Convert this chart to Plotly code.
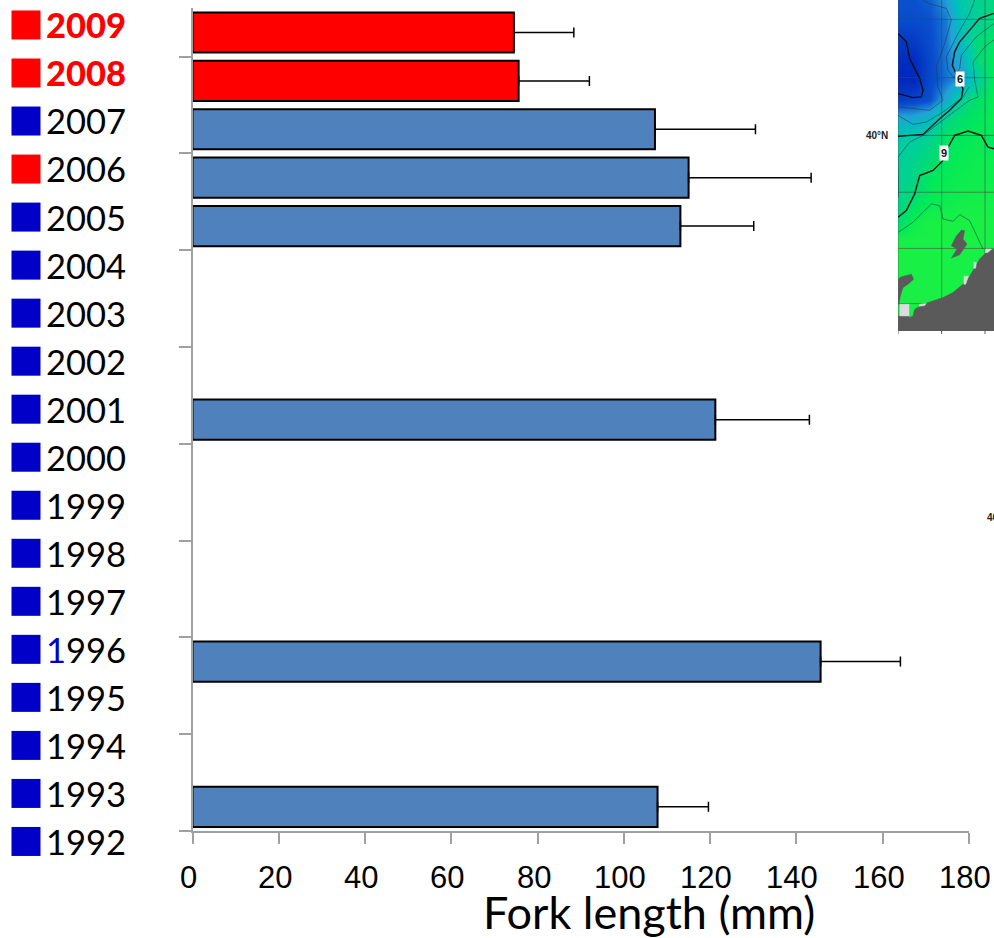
import plotly.graph_objects as go

W, H = 994, 938

# --- chart data ---
label_years = list(range(2009, 1991, -1))
marker_groups = ["red", "red", "blue", "red"] + ["blue"] * 14
bar_years = [2009, 2008, 2007, 2006, 2005, 2001, 1996, 1993]
fork_length = [74.5, 75.6, 107.2, 115.0, 113.1, 121.2, 145.6, 107.8]
error_plus = [13.9, 16.4, 23.3, 28.4, 17.0, 21.8, 18.5, 11.8]
bar_groups = ["red", "red", "steel", "steel", "steel", "steel", "steel", "steel"]
x_ticks = [0, 20, 40, 60, 80, 100, 120, 140, 160, 180]
y_ticks = [1992.5, 1994.5, 1996.5, 1998.5, 2000.5, 2002.5, 2004.5, 2006.5, 2008.5]
x_title = "Fork length (mm)"

# --- inset map data (in inset image units) ---
map_x = [55, 103, 151, 199, 247, 295, 343]
map_y = [0, 60, 120, 180, 240, 300, 360, 420, 480, 540, 600, 660, 720, 1000]
map_temp = [
    [5.0, 5.0, 5.2, 6.0, 7.8, 8.5, 8.8],
    [4.9, 4.9, 5.0, 5.5, 7.4, 8.2, 9.0],
    [4.4, 4.5, 4.9, 5.5, 7.2, 9.0, 9.5],
    [4.1, 4.1, 4.8, 5.5, 6.4, 9.0, 10.0],
    [4.0, 4.0, 4.8, 5.4, 6.0, 8.0, 10.0],
    [4.5, 4.7, 5.0, 6.3, 8.3, 9.5, 10.3],
    [6.4, 6.4, 6.9, 8.7, 9.5, 10.0, 10.5],
    [7.8, 8.0, 8.5, 9.7, 10.0, 10.3, 9.8],
    [8.1, 8.5, 9.1, 10.0, 10.3, 10.5, 10.5],
    [8.3, 8.7, 10.0, 10.3, 10.5, 10.6, 10.6],
    [8.6, 9.4, 10.2, 10.5, 10.7, 10.8, 10.8],
    [9.0, 10.5, 11.0, 11.0, 11.0, 11.0, 11.0],
    [11.0, 11.0, 11.0, 11.0, 11.0, 11.0, 11.0],
    [11.0, 11.0, 11.0, 11.0, 11.0, 11.0, 11.0],
]
grid_x = [55, 186, 316]
grid_y = [58, 232, 405, 575, 743, 908]
bold_contours = [
    ([55, 80, 90, 120, 130, 125, 100, 55], [100, 125, 175, 235, 270, 290, 292, 280]),
    ([343, 300, 270, 240, 225, 218, 235, 250, 245, 210, 180, 130, 55],
     [40, 55, 90, 125, 155, 195, 235, 265, 295, 330, 355, 402, 408]),
    ([343, 325, 305, 265, 225, 200, 190, 160, 120, 105, 80, 55],
     [445, 440, 405, 392, 405, 450, 480, 510, 525, 580, 630, 650]),
]
thin_contours = [
    ([130, 150, 200, 215, 195, 170, 175, 190, 150, 55], [0, 12, 25, 60, 130, 200, 260, 300, 330, 320]),
    ([55, 100, 140, 190, 250, 268], [345, 372, 365, 335, 290, 260]),
    ([285, 270, 235, 200, 205, 225], [0, 40, 100, 170, 210, 235]),
    ([343, 320, 280, 285, 295, 270, 215, 130, 90, 55, 57], [120, 135, 185, 240, 290, 300, 340, 405, 425, 470, 590]),
    ([55, 100, 155, 180, 190, 220, 240, 270, 310], [695, 665, 610, 615, 655, 662, 642, 660, 745]),
    ([343, 290, 245, 240, 220], [70, 110, 165, 205, 235]),
]
land_x = [343, 320, 300, 285, 262, 220, 190, 130, 105, 100, 88, 88, 55, 55, 343]
land_y = [745, 755, 775, 800, 840, 875, 890, 910, 925, 945, 950, 945, 945, 990, 990]
peninsula_x = [55, 65, 95, 102, 85, 70, 62, 58, 55]
peninsula_y = [835, 828, 820, 835, 850, 860, 885, 910, 910]
lake_x = [245, 255, 250, 262, 240, 215, 232, 215, 230]
lake_y = [688, 690, 715, 730, 762, 772, 745, 735, 705]
pale_x = [60, 88, 88, 60]
pale_y = [910, 910, 945, 945]
pale_coast = [
    ([318, 335, 325, 316], [745, 745, 755, 755]),
    ([282, 290, 288, 282], [785, 785, 802, 802]),
    ([252, 266, 258, 252], [826, 826, 850, 850]),
    ([118, 140, 135, 118], [910, 908, 914, 916]),
]

RED = "#ff0000"
BLUE = "#0000c8"
STEEL = "#4f81bd"
AXIS = "#a0a0a0"
DARK = "#5a5a5a"
LABEL_FONT = "Lato"
TICK_FONT = "Liberation Sans"

bar_colours = {"red": RED, "steel": STEEL}
mark_colours = {"red": RED, "blue": BLUE}
bold_years = [2009, 2008]
plain_years = [y for y in label_years if y not in bold_years]

def px(v):
    return v / W

def py(v):
    return 1 - v / H

fig = go.Figure()

# bars
fig.add_trace(go.Bar(
    x=fork_length, y=bar_years, orientation="h", width=0.83,
    marker=dict(color=[bar_colours[g] for g in bar_groups], line=dict(color="black", width=2)),
    error_x=dict(type="data", symmetric=False, array=error_plus,
                 arrayminus=[0] * len(error_plus),
                 color="black", thickness=1.5, width=5),
    showlegend=False, xaxis="x", yaxis="y",
))

# left-hand year key
def year_text(y):
    if y == 1996:
        return f'<span style="color:{BLUE}">1</span>996'
    return str(y)

fig.add_trace(go.Scatter(
    x=[26] * len(label_years), y=label_years, mode="markers",
    marker=dict(symbol="square", size=29,
                color=[mark_colours[g] for g in marker_groups]),
    showlegend=False, xaxis="x3", yaxis="y3",
))
fig.add_trace(go.Scatter(
    x=[46] * len(plain_years), y=[v - 0.1 for v in plain_years], mode="text",
    text=[year_text(y) for y in plain_years],
    textposition="middle right",
    textfont=dict(family=LABEL_FONT, size=34.5, color="black"),
    showlegend=False, xaxis="x3", yaxis="y3", cliponaxis=False,
))
fig.add_trace(go.Scatter(
    x=[46] * len(bold_years), y=[v - 0.1 for v in bold_years], mode="text",
    text=[str(y) for y in bold_years],
    textposition="middle right",
    textfont=dict(family=LABEL_FONT, size=34.5, color=RED, weight=900),
    showlegend=False, xaxis="x3", yaxis="y3", cliponaxis=False,
))

# inset map
fig.add_trace(go.Heatmap(
    x=map_x, y=map_y, z=map_temp, zmin=4, zmax=11, zsmooth="best", showscale=False,
    hoverinfo="skip", xaxis="x4", yaxis="y4",
    colorscale=[[0, "rgb(0,40,190)"], [1 / 7, "rgb(10,80,205)"], [2 / 7, "rgb(35,160,215)"],
                [3 / 7, "rgb(0,190,190)"], [4 / 7, "rgb(0,205,160)"], [5 / 7, "rgb(0,218,120)"],
                [6 / 7, "rgb(0,232,90)"], [1, "rgb(25,240,70)"]],
))

def map_line(xs, ys, colour, width):
    fig.add_trace(go.Scatter(x=xs, y=ys, mode="lines", line=dict(color=colour, width=width),
                             showlegend=False, hoverinfo="skip", xaxis="x4", yaxis="y4"))

def map_fill(xs, ys, colour):
    fig.add_trace(go.Scatter(x=xs, y=ys, mode="lines", fill="toself", fillcolor=colour,
                             line=dict(color=colour, width=0.5),
                             showlegend=False, hoverinfo="skip", xaxis="x4", yaxis="y4"))

for gx in grid_x:
    map_line([gx, gx], [0, 1000], "rgba(70,70,70,0.55)", 1)
for gy in grid_y:
    map_line([55, 343], [gy, gy], "rgba(70,70,70,0.75)" if gy == 405 else "rgba(70,70,70,0.55)", 1)
for xs, ys in thin_contours:
    map_line(xs, ys, "rgba(30,60,70,0.7)", 0.8)
for xs, ys in bold_contours:
    map_line(xs, ys, "#101010", 1.4)
map_fill(land_x, land_y, DARK)
map_fill(peninsula_x, peninsula_y, DARK)
map_fill(lake_x, lake_y, DARK)
map_fill(pale_x, pale_y, "#dcdcdc")
for xs, ys in pale_coast:
    map_fill(xs, ys, "#dcdcdc")

shapes = []
for gx in grid_x:
    shapes.append(dict(type="line", xref="x4", x0=gx, x1=gx, yref="paper",
                       y0=py(331), y1=py(334), line=dict(color=DARK, width=1)))

annotations = [
    dict(text=str(t), xref="x", x=t, yref="paper", y=py(877), xshift=-4,
         showarrow=False, xanchor="center", yanchor="middle",
         font=dict(family=TICK_FONT, size=31, color="black"))
    for t in x_ticks
]
annotations += [
    dict(text=x_title, xref="paper", x=px(649), yref="paper", y=py(912), showarrow=False,
         xanchor="center", yanchor="middle",
         font=dict(family=LABEL_FONT, size=45, color="black")),
    dict(text="<b>40°N</b>", xref="paper", x=px(877), yref="paper", y=py(135), showarrow=False,
         xanchor="center", yanchor="middle",
         font=dict(family=TICK_FONT, size=10, color="#222222")),
    dict(text="<b>40°N</b>", xref="paper", x=px(985), yref="paper", y=py(517), showarrow=False,
         xanchor="left", yanchor="middle",
         font=dict(family=TICK_FONT, size=10, color="#222222")),
    dict(text="<b>6</b>", xref="x4", x=240, yref="y4", y=235, showarrow=False, bgcolor="white",
         borderpad=1, font=dict(family=TICK_FONT, size=11, color="#111111")),
    dict(text="<b>9</b>", xref="x4", x=192, yref="y4", y=458, showarrow=False, bgcolor="white",
         borderpad=1, font=dict(family=TICK_FONT, size=11, color="#111111")),
]

fig.update_layout(
    width=W, height=H, margin=dict(l=0, r=0, t=0, b=0),
    paper_bgcolor="white", plot_bgcolor="white", showlegend=False, bargap=0.17,
    annotations=annotations, shapes=shapes,
    xaxis=dict(domain=[px(192.5), px(969)], range=[0, 180], tickvals=x_ticks,
               showticklabels=False, ticks="outside", ticklen=11, tickwidth=2, tickcolor=AXIS,
               showline=True, linewidth=2, linecolor=AXIS, showgrid=False, zeroline=False,
               anchor="y"),
    yaxis=dict(domain=[py(831), py(8.3)], range=[1992.5, 2009.5], tickvals=y_ticks,
               showticklabels=False, ticks="outside", ticklen=12, tickwidth=2, tickcolor=AXIS,
               showline=True, linewidth=2, linecolor=AXIS, showgrid=False, zeroline=False,
               anchor="x"),
    xaxis3=dict(domain=[0, px(190)], range=[0, 190], visible=False, anchor="y3"),
    yaxis3=dict(domain=[0, 1], range=[1989.99, 2009.52], visible=False, anchor="x3"),
    xaxis4=dict(domain=[px(898), 1], range=[55, 343], visible=False, anchor="y4"),
    yaxis4=dict(domain=[py(331), 1], range=[990, 0], visible=False, anchor="x4"),
)

fig.write_html("out.html", config={"displayModeBar": False},
               post_script="document.body.style.margin='0';document.body.style.overflow='hidden';")
